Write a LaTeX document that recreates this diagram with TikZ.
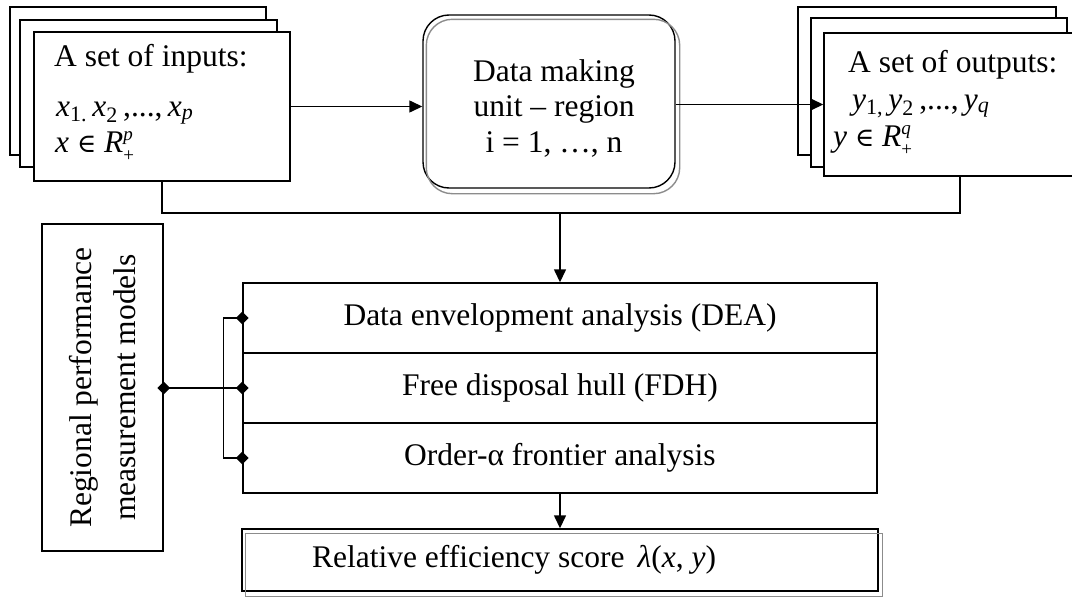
\documentclass[tikz,border=0pt]{standalone}
\usepackage{fontspec}
\setmainfont{Liberation Serif}
\newfontfamily\symf{DejaVu Serif}
\newcommand{\supsub}[2]{\rlap{\raisebox{0.36em}{\fontsize{19}{19}\selectfont #1}}\raisebox{-0.3em}{\fontsize{19}{19}\selectfont #2}}
\usetikzlibrary{arrows.meta,shapes.geometric}
\begin{document}
\begin{tikzpicture}[x=1pt,y=-1pt,
  card/.style={draw=black, line width=1.4pt, fill=white, inner sep=0pt, font=\fontsize{31.5}{36}\selectfont},
  txt/.style={inner sep=0pt, font=\fontsize{31.5}{36}\selectfont},
  arr/.style={line width=1.4pt, -{Triangle[length=13pt,width=12pt]}},
  conn/.style={line width=1.4pt},
  graybox/.style={draw=black!45, line width=1.4pt},
  dia/.style={diamond, fill=black, inner sep=0pt, minimum width=13pt, minimum height=13pt}]
\useasboundingbox (0,0) rectangle (1072,597);
\clip (0,0) rectangle (1072,597);

% inputs stack
\node[card, minimum width=256pt, minimum height=148pt] (in3) at (138,81) {};
\node[card, minimum width=257pt, minimum height=147pt] (in2) at (148.5,93.5) {};
\node[card, minimum width=256pt, minimum height=149pt] (in1) at (162,106.5) {};
\node[txt, anchor=base west] (intitle) at (54,66) {A set of inputs:};
\node[txt, anchor=base west] (inx) at (56,116) {\textit{x}\textsubscript{1.}\,\textit{x}\textsubscript{2}\,,...,\,\textit{x}\textsubscript{\textit{p}}};
\node[txt, anchor=base west] (inr) at (55,152) {\textit{x} {\symf\fontsize{26}{30}\selectfont ∈} \textit{R}\supsub{\textit{p}}{+}};

% outputs stack
\node[card, minimum width=258pt, minimum height=148pt] (out3) at (927,81) {};
\node[card, minimum width=256pt, minimum height=149pt] (out2) at (939,92.5) {};
\node[card, minimum width=256pt, minimum height=143pt] (out1) at (952,104.5) {};
\node[txt, anchor=base west] (outtitle) at (848,72) {A set of outputs:};
\node[txt, anchor=base west] (outy) at (852,109) {\textit{y}\textsubscript{1,}\,\textit{y}\textsubscript{2}\,,...,\,\textit{y}\textsubscript{\textit{q}}};
\node[txt, anchor=base west] (outr) at (833,146) {\textit{y} {\symf\fontsize{26}{30}\selectfont ∈} \textit{R}\supsub{\textit{q}}{+}};

% DMU
\node[draw=black, line width=1.4pt, rounded corners=26pt, minimum width=252pt, minimum height=173pt] (dmu) at (549,101.5) {};
\draw[graybox, rounded corners=26pt] ([shift={(4,5)}]dmu.north west) rectangle ([shift={(4,5)}]dmu.south east);
\node[txt, align=center, font=\fontsize{31.5}{35.5}\selectfont] (dmut) at (554,108) {Data making\\unit – region\\i = 1, …, n};

\draw[arr] (in1.east) -- (in1.east -| dmu.west);
\draw[arr] (out1.west -| dmu.east) -- (out1.west);

% junction
\coordinate (jr) at (960,213);
\draw[conn] (in1.south) |- (jr) -- (jr |- out1.south);

% models
\node[card, minimum width=634pt, minimum height=70pt] (dea) at (560,318) {Data envelopment analysis (DEA)};
\node[card, minimum width=634pt, minimum height=70pt] (fdh) at (560,388) {Free disposal hull (FDH)};
\node[card, minimum width=634pt, minimum height=70pt] (ord) at (560,458) {Order-α frontier analysis};
\draw[arr] (dea.north |- jr) -- (dea.north);

% label box
\node[card, minimum width=121pt, minimum height=327pt] (lbl) at (102.5,387.5) {};
\node[txt, rotate=90, align=center, font=\fontsize{31.5}{44}\selectfont] (lblt) at (lbl) {Regional performance\\measurement models};

\draw[conn] (lbl.east |- fdh.west) -- (fdh.west);
\draw[conn] (dea.west) -- ++(-19,0) |- (ord.west);
\node[dia] (d0) at (lbl.east |- fdh.west) {};
\node[dia] (d1) at (dea.west) {};
\node[dia] (d2) at (fdh.west) {};
\node[dia] (d3) at (ord.west) {};

% efficiency
\node[card, minimum width=636pt, minimum height=62pt] (eff) at (560,560) {};
\draw[graybox] ([shift={(4,5)}]eff.north west) rectangle ([shift={(4,5)}]eff.south east);
\node[txt] (efft) at (514,560) {Relative efficiency score \,\textit{λ}(\textit{x}, \textit{y})};
\draw[arr] (ord.south) -- (eff.north);
\end{tikzpicture}
\end{document}
